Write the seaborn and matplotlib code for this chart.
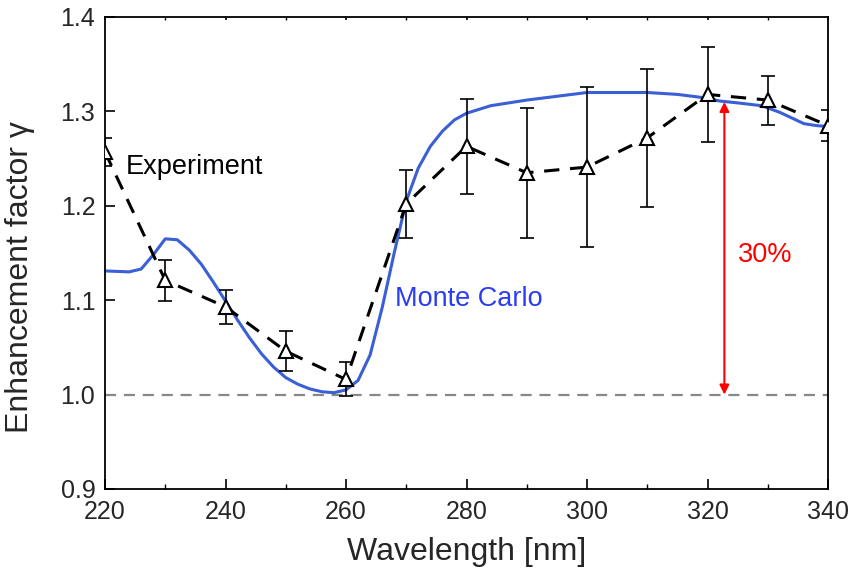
import matplotlib
matplotlib.use("Agg")
import matplotlib.pyplot as plt
import seaborn as sns
import numpy as np
import pandas as pd

# Experiment data
exp_wl = [220, 230, 240, 250, 260, 270, 280, 290, 300, 310, 320, 330, 340]
exp_val = [1.257, 1.121, 1.093, 1.046, 1.016, 1.202, 1.263, 1.235, 1.241, 1.272, 1.318, 1.312, 1.285]
exp_err = [0.015, 0.022, 0.018, 0.021, 0.018, 0.036, 0.050, 0.069, 0.085, 0.073, 0.050, 0.026, 0.016]

# Monte Carlo simulation
mc_wl = [220, 224, 226, 228, 230, 232, 234, 236, 238, 240, 242, 244, 246, 248, 250, 252, 254,
         256, 258, 260, 262, 264, 266, 268, 270, 272, 274, 276, 278, 280, 284, 290, 300, 310,
         315, 320, 322, 325, 329, 332, 334, 336, 338, 340]
mc_val = [1.131, 1.130, 1.133, 1.148, 1.165, 1.164, 1.153, 1.138, 1.119, 1.099, 1.079, 1.060,
          1.043, 1.029, 1.018, 1.011, 1.006, 1.003, 1.002, 1.005, 1.015, 1.042, 1.092, 1.150,
          1.205, 1.240, 1.263, 1.279, 1.291, 1.298, 1.306, 1.312, 1.320, 1.320, 1.318, 1.314,
          1.311, 1.309, 1.306, 1.299, 1.293, 1.287, 1.285, 1.284]

sns.set_theme(style="ticks")
plt.rcParams['font.family'] = ['Liberation Sans', 'DejaVu Sans']
plt.rcParams['xtick.direction'] = 'in'
plt.rcParams['ytick.direction'] = 'in'

fig = plt.figure(figsize=(8.53, 5.78), dpi=100)
ax = fig.add_axes([0.1231, 0.1540, 0.8476, 0.8166])

df_mc = pd.DataFrame({"wl": mc_wl, "val": mc_val})
df_exp = pd.DataFrame({"wl": exp_wl, "val": exp_val, "err": exp_err})

ax.axhline(1.0, color="#888888", lw=1.6, dashes=(5, 3.5), zorder=1)

sns.lineplot(data=df_mc, x="wl", y="val", ax=ax, color="#3b5fd4", lw=2.2, zorder=2)

ax.errorbar(df_exp["wl"], df_exp["val"], yerr=df_exp["err"], fmt="none", ecolor="black",
            elinewidth=1.2, capsize=5, capthick=1.2, zorder=3, clip_on=True)
sns.lineplot(data=df_exp, x="wl", y="val", ax=ax, color="black", lw=2.2,
             dashes=False, zorder=4)
ax.lines[-1].set_dashes((5, 3.5))
ax.plot(df_exp["wl"], df_exp["val"], ls="none", marker="^", ms=9.5, mfc="white",
        mec="black", mew=1.5, zorder=5, clip_on=True)

ax.annotate("", xy=(322.8, 1.0), xytext=(322.8, 1.31),
            arrowprops=dict(arrowstyle="<|-|>", color="red", lw=1.5,
                            shrinkA=0, shrinkB=0, mutation_scale=14))
ax.text(329.6, 1.148, "30%", color="red", fontsize=19.5, ha="center", va="center")
ax.text(223.5, 1.241, "Experiment", color="black", fontsize=19.5, ha="left", va="center")
ax.text(268.1, 1.101, "Monte Carlo", color="#2a3df0", fontsize=19.5, ha="left", va="center")

ax.set_xlim(220, 340)
ax.set_ylim(0.9, 1.4)
ax.set_xticks(np.arange(220, 341, 20))
ax.set_xticks(np.arange(230, 340, 20), minor=True)
ax.set_yticks(np.arange(0.9, 1.401, 0.1))
ax.set_yticklabels(["0.9", "1.0", "1.1", "1.2", "1.3", "1.4"])
ax.tick_params(axis="both", which="major", labelsize=18, length=7, width=1.2, color="black")
ax.tick_params(axis="x", which="major", pad=8)
ax.tick_params(axis="y", which="major", pad=7)
ax.tick_params(axis="x", which="minor", length=3.5, width=1.0, color="black")
ax.tick_params(axis="x", which="both", top=True)
for t in ax.xaxis.get_major_ticks() + ax.xaxis.get_minor_ticks():
    t.tick2line.set_markersize(2)
for s in ax.spines.values():
    s.set_linewidth(1.3)
    s.set_color("black")
    s.set_visible(True)

ax.set_xlabel("Wavelength [nm]", fontsize=23, labelpad=9)
ax.set_ylabel("Enhancement factor γ", fontsize=23)
ax.yaxis.set_label_coords(-0.097, 0.45)

fig.savefig("out.png", dpi=100)
